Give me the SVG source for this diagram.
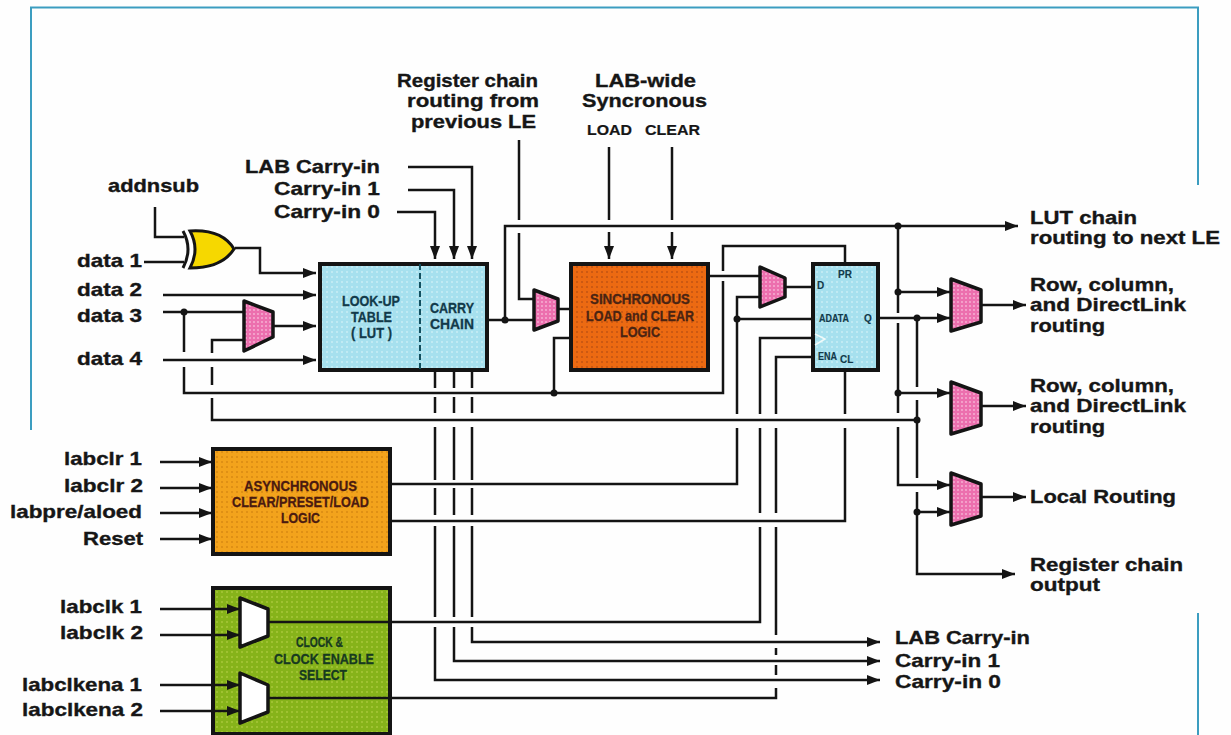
<svg xmlns="http://www.w3.org/2000/svg" width="1231" height="735" viewBox="0 0 1231 735">
<defs>
<style>
text{font-family:"Liberation Sans",Arial,sans-serif;font-weight:bold;fill:#161616}
.l{font-size:18.500px;stroke:#161616;stroke-width:.35}
.s{font-size:14px;stroke:#161616;stroke-width:.2}
.x{font-size:15px;stroke-width:.3}
.tb{fill:#123a4a;stroke:#123a4a}
.to{fill:#4a2412;stroke:#4a2412}
.ta{fill:#4a1a10;stroke:#4a1a10}
.tg{fill:#173a20;stroke:#173a20}
.t{font-size:10px;fill:#123a4a;stroke:#123a4a;stroke-width:.15}
.b{stroke:#141414;stroke-width:4}
.w{fill:none;stroke:#141414;stroke-width:2.5}
.a{marker-end:url(#arrow)}
.m{stroke:#141414;stroke-width:3.500;stroke-linejoin:round;fill:url(#pink)}
.mw{stroke:#141414;stroke-width:3.500;stroke-linejoin:round;fill:#fff}
.d{fill:#141414}
.bd{fill:none;stroke:#3c9dc0;stroke-width:2}
</style>
<marker id="arrow" markerUnits="userSpaceOnUse" markerWidth="14" markerHeight="12" refX="13" refY="6" orient="auto"><path d="M0,1 L13,6 L0,11 Z" fill="#141414"/></marker>
<pattern id="blue" width="5" height="5" patternUnits="userSpaceOnUse"><rect width="5" height="5" fill="#a6e0ee"/><circle cx="2" cy="2" r="1" fill="#c9eef5"/></pattern>
<pattern id="orange" width="5" height="5" patternUnits="userSpaceOnUse"><rect width="5" height="5" fill="#ec6a12"/><circle cx="2" cy="2" r="1" fill="#c25312"/></pattern>
<pattern id="amber" width="5" height="5" patternUnits="userSpaceOnUse"><rect width="5" height="5" fill="#f3a31c"/><circle cx="2" cy="2" r="1" fill="#d98a12"/></pattern>
<pattern id="green" width="5" height="5" patternUnits="userSpaceOnUse"><rect width="5" height="5" fill="#86b31a"/><circle cx="2" cy="2" r="1" fill="#a8c83a"/></pattern>
<pattern id="pink" width="4" height="4" patternUnits="userSpaceOnUse"><rect width="4" height="4" fill="#ec6fae"/><circle cx="2" cy="2" r="0.9" fill="#f7b6d6"/></pattern>
</defs>
<rect width="1231" height="735" fill="#fefefe"/>
<path class="bd" d="M31,430 V7.500 H1198 V185 M1198,613 V735"/>

<g id="connectors">
<path class="w" d="M155,207 V237 H184 M144,262 H184"/>
<path class="w a" d="M235,248 H260 V273 H316"/>
<path class="w a" d="M163,295 H316"/>
<path class="w" d="M163,312 H245"/>
<path class="w a" d="M273,326 H316"/>
<path class="w a" d="M163,360 H316"/>
<path class="w" d="M184,312 V352 M184,367 V393 H723 V281 M723,271 V246 H845 V263"/>
<path class="w" d="M245,340 H212 V353 M212,367 V385 M212,398 V420 H917"/>
<path class="w" d="M554,393 V338 H571"/>
<path class="w a" d="M408,167 H472 V259"/>
<path class="w a" d="M408,190 H454 V259"/>
<path class="w a" d="M397,212 H435 V259"/>
<path class="w" d="M435,372 V388 M435,397 V413 M435,427 V480 M435,488 V515 M435,526 V617 M435,627 V630"/>
<path class="w" d="M454,372 V388 M454,397 V413 M454,427 V480 M454,488 V515 M454,526 V617 M454,627 V630"/>
<path class="w" d="M472,372 V388 M472,397 V413 M472,427 V480 M472,488 V515 M472,526 V617 M472,627 V630"/>
<path class="w a" d="M472,630 V642 H880"/>
<path class="w a" d="M454,630 V661 H880"/>
<path class="w a" d="M435,630 V680 H880"/>
<path class="w" d="M487,320 H533"/>
<path class="w a" d="M505,320 V226 H1018"/>
<path class="w" d="M519,140 V220 M519,233 V299 H534"/>
<path class="w" d="M558,309 H571"/>
<path class="w" d="M609,147 V220"/><path class="w a" d="M609,232 V259"/>
<path class="w" d="M672,147 V220"/><path class="w a" d="M672,232 V259"/>
<path class="w" d="M709,276 H760 M785,287 H812"/>
<path class="w" d="M760,297 H737 V414 M737,428 V484 H390"/>
<path class="w" d="M737,319 H812"/>
<path class="w" d="M812,338 H760 V414 M760,428 V513 M760,527 V622 H268"/>
<path class="w" d="M812,357 H776 V414 M776,428 V513 M776,527 V635 M776,648 V655 M776,665 V675 M776,688 V698 H268"/>
<path class="w" d="M845,371 V414 M845,428 V521 H390"/>
<path class="w a" d="M878,318 H950"/>
<path class="w" d="M898,226 V313 M898,323 V413"/>
<path class="w a" d="M898,427 V485 H950"/>
<path class="w a" d="M898,292 H950"/>
<path class="w a" d="M898,393 H950"/>
<path class="w" d="M917,318 V387 M917,400 V478"/>
<path class="w a" d="M917,492 V574 H1015"/>
<path class="w a" d="M917,512 H950"/>
<path class="w a" d="M981,305 H1026"/>
<path class="w a" d="M981,406 H1026"/>
<path class="w a" d="M981,497 H1026"/>
<path class="w a" d="M160,462 H212"/>
<path class="w a" d="M160,488 H212"/>
<path class="w a" d="M160,513 H212"/>
<path class="w a" d="M160,539 H212"/>
<g class="d">
<circle cx="184" cy="312" r="3.500"/><circle cx="505" cy="320" r="3.500"/><circle cx="554" cy="393" r="3.500"/>
<circle cx="737" cy="319" r="3.500"/><circle cx="898" cy="226" r="3.500"/><circle cx="898" cy="292" r="3.500"/>
<circle cx="917" cy="318" r="3.500"/><circle cx="898" cy="393" r="3.500"/><circle cx="917" cy="420" r="3.500"/>
<circle cx="917" cy="512" r="3.500"/>
</g>
</g>

<g id="xor">
<path d="M190,231 Q222,229 234,249 Q222,268 190,268 Q200,249 190,231 Z" fill="#f6d800" stroke="#141414" stroke-width="3"/>
<path d="M183,231 Q193,249 183,268" fill="none" stroke="#141414" stroke-width="3"/>
</g>
<g id="mux-data3"><polygon class="m" points="244,301 273,312 273,337 244,351"/></g>
<g id="mux-reg-in"><polygon class="m" points="534,290 558,299 558,321 534,330"/></g>
<g id="mux-d"><polygon class="m" points="760,267 785,278 785,297 760,307"/></g>
<g id="mux-out1"><polygon class="m" points="951,279 981,290 981,322 951,331"/></g>
<g id="mux-out2"><polygon class="m" points="951,382 981,393 981,425 951,434"/></g>
<g id="mux-out3"><polygon class="m" points="951,473 981,484 981,516 951,525"/></g>

<g id="lut">
<rect x="320" y="264" width="167" height="106" fill="url(#blue)" class="b"/>
<path d="M420,264 V370" fill="none" stroke="#12505f" stroke-width="2" stroke-dasharray="6 3"/>
<text class="x tb" x="342" y="306" textLength="58" lengthAdjust="spacingAndGlyphs">LOOK-UP</text>
<text class="x tb" x="351" y="322" textLength="41" lengthAdjust="spacingAndGlyphs">TABLE</text>
<text class="x tb" x="351" y="338" textLength="41" lengthAdjust="spacingAndGlyphs">( LUT )</text>
<text class="x tb" x="430" y="313" textLength="44" lengthAdjust="spacingAndGlyphs">CARRY</text>
<text class="x tb" x="430" y="329" textLength="44" lengthAdjust="spacingAndGlyphs">CHAIN</text>
</g>

<g id="sync">
<rect x="571" y="264" width="137" height="106" fill="url(#orange)" class="b"/>
<text class="x to" x="590" y="304" textLength="100" lengthAdjust="spacingAndGlyphs">SINCHRONOUS</text>
<text class="x to" x="586" y="321" textLength="108" lengthAdjust="spacingAndGlyphs">LOAD and CLEAR</text>
<text class="x to" x="620" y="337" textLength="40" lengthAdjust="spacingAndGlyphs">LOGIC</text>
</g>

<g id="register">
<rect x="813" y="264" width="65" height="106" fill="url(#blue)" class="b"/>
<text class="t" x="838" y="278">PR</text>
<text class="t" x="817" y="289">D</text>
<text class="t" x="819" y="322" textLength="30" lengthAdjust="spacingAndGlyphs">ADATA</text>
<text class="t" x="864" y="322">Q</text>
<text class="t" x="818" y="360" textLength="19" lengthAdjust="spacingAndGlyphs">ENA</text>
<text class="t" x="840" y="363">CL</text>
<path d="M815,334 L825,339 L815,345" fill="none" stroke="#f0fafa" stroke-width="1.500"/>
</g>

<g id="async">
<rect x="213" y="449" width="177" height="105" fill="url(#amber)" class="b"/>
<text class="x ta" x="244" y="491" textLength="113" lengthAdjust="spacingAndGlyphs">ASYNCHRONOUS</text>
<text class="x ta" x="232" y="507" textLength="137" lengthAdjust="spacingAndGlyphs">CLEAR/PRESET/LOAD</text>
<text class="x ta" x="281" y="523" textLength="39" lengthAdjust="spacingAndGlyphs">LOGIC</text>
</g>

<g id="clock">
<rect x="213" y="588" width="177" height="146" fill="url(#green)" class="b"/>
<path class="w" d="M268,622 H392 M268,698 H392"/>
<path class="w a" d="M160,609 H240"/>
<path class="w a" d="M160,635 H240"/>
<path class="w a" d="M160,685 H240"/>
<path class="w a" d="M160,711 H240"/>
<polygon class="mw" points="240,598 268,609 268,636 240,647"/>
<polygon class="mw" points="240,673 268,685 268,712 240,723"/>
<text class="x tg" x="296" y="647" textLength="47" lengthAdjust="spacingAndGlyphs">CLOCK &amp;</text>
<text class="x tg" x="274" y="664" textLength="100" lengthAdjust="spacingAndGlyphs">CLOCK ENABLE</text>
<text class="x tg" x="299" y="680" textLength="48" lengthAdjust="spacingAndGlyphs">SELECT</text>
</g>

<g id="labels">
<text class="l" x="397" y="87" textLength="141" lengthAdjust="spacingAndGlyphs">Register chain</text>
<text class="l" x="407" y="107" textLength="132" lengthAdjust="spacingAndGlyphs">routing from</text>
<text class="l" x="411" y="128" textLength="125" lengthAdjust="spacingAndGlyphs">previous LE</text>
<text class="l" x="595" y="87" textLength="101" lengthAdjust="spacingAndGlyphs">LAB-wide</text>
<text class="l" x="582" y="107" textLength="125" lengthAdjust="spacingAndGlyphs">Syncronous</text>
<text class="s" x="587" y="135" textLength="45" lengthAdjust="spacingAndGlyphs">LOAD</text>
<text class="s" x="645" y="135" textLength="55" lengthAdjust="spacingAndGlyphs">CLEAR</text>
<text class="l" x="245" y="173" textLength="135" lengthAdjust="spacingAndGlyphs">LAB Carry-in</text>
<text class="l" x="274" y="195" textLength="106" lengthAdjust="spacingAndGlyphs">Carry-in 1</text>
<text class="l" x="274" y="218" textLength="106" lengthAdjust="spacingAndGlyphs">Carry-in 0</text>
<text class="l" x="108" y="192" textLength="91" lengthAdjust="spacingAndGlyphs">addnsub</text>
<text class="l" x="77" y="267" textLength="65" lengthAdjust="spacingAndGlyphs">data 1</text>
<text class="l" x="77" y="296" textLength="65" lengthAdjust="spacingAndGlyphs">data 2</text>
<text class="l" x="77" y="322" textLength="65" lengthAdjust="spacingAndGlyphs">data 3</text>
<text class="l" x="77" y="365" textLength="65" lengthAdjust="spacingAndGlyphs">data 4</text>
<text class="l" x="64" y="465" textLength="78" lengthAdjust="spacingAndGlyphs">labclr 1</text>
<text class="l" x="64" y="492" textLength="79" lengthAdjust="spacingAndGlyphs">labclr 2</text>
<text class="l" x="10" y="518" textLength="132" lengthAdjust="spacingAndGlyphs">labpre/aloed</text>
<text class="l" x="83" y="545" textLength="60" lengthAdjust="spacingAndGlyphs">Reset</text>
<text class="l" x="60" y="613" textLength="82" lengthAdjust="spacingAndGlyphs">labclk 1</text>
<text class="l" x="60" y="639" textLength="83" lengthAdjust="spacingAndGlyphs">labclk 2</text>
<text class="l" x="22" y="691" textLength="120" lengthAdjust="spacingAndGlyphs">labclkena 1</text>
<text class="l" x="22" y="716" textLength="121" lengthAdjust="spacingAndGlyphs">labclkena 2</text>
<text class="l" x="1030" y="224" textLength="107" lengthAdjust="spacingAndGlyphs">LUT chain</text>
<text class="l" x="1030" y="244" textLength="190" lengthAdjust="spacingAndGlyphs">routing to next LE</text>
<text class="l" x="1030" y="291" textLength="144" lengthAdjust="spacingAndGlyphs">Row, column,</text>
<text class="l" x="1030" y="311" textLength="156" lengthAdjust="spacingAndGlyphs">and DirectLink</text>
<text class="l" x="1030" y="332" textLength="75" lengthAdjust="spacingAndGlyphs">routing</text>
<text class="l" x="1030" y="392" textLength="144" lengthAdjust="spacingAndGlyphs">Row, column,</text>
<text class="l" x="1030" y="412" textLength="156" lengthAdjust="spacingAndGlyphs">and DirectLink</text>
<text class="l" x="1030" y="433" textLength="75" lengthAdjust="spacingAndGlyphs">routing</text>
<text class="l" x="1030" y="503" textLength="146" lengthAdjust="spacingAndGlyphs">Local Routing</text>
<text class="l" x="1030" y="571" textLength="153" lengthAdjust="spacingAndGlyphs">Register chain</text>
<text class="l" x="1030" y="591" textLength="70" lengthAdjust="spacingAndGlyphs">output</text>
<text class="l" x="895" y="644" textLength="135" lengthAdjust="spacingAndGlyphs">LAB Carry-in</text>
<text class="l" x="895" y="667" textLength="105" lengthAdjust="spacingAndGlyphs">Carry-in 1</text>
<text class="l" x="895" y="688" textLength="106" lengthAdjust="spacingAndGlyphs">Carry-in 0</text>
</g>
</svg>
